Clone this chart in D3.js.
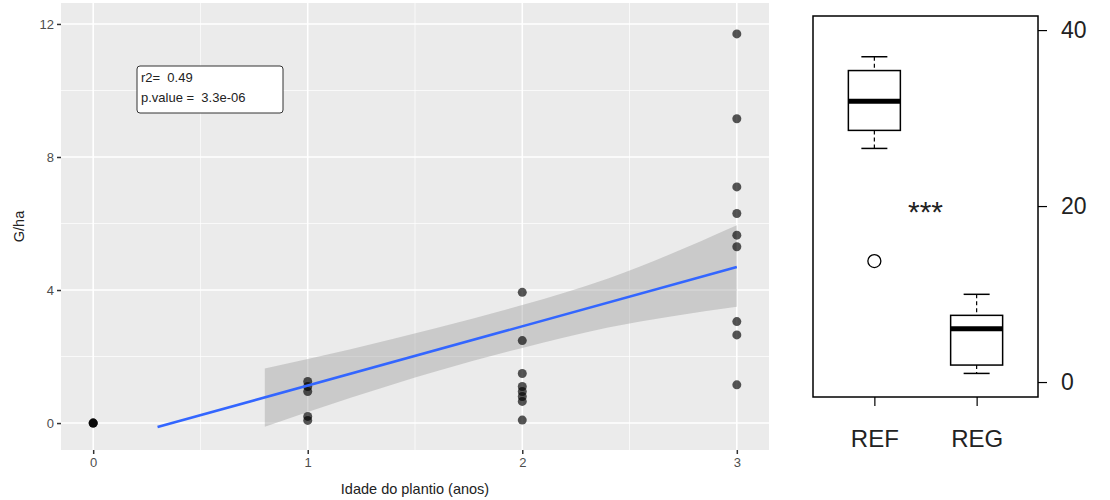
<!DOCTYPE html>
<html>
<head>
<meta charset="utf-8">
<script src="https://cdn.jsdelivr.net/npm/d3@7"></script>
<style>
  body { margin: 0; background: #fff; }
  svg { font-family: "Liberation Sans", Arial, sans-serif; }
</style>
</head>
<body>
<svg id="svg" width="1110" height="500"></svg>
<script>
(function() {

    // scatter: G/ha by planting age (several plots at age 0 overlap)
    const ageX = [0, 0, 0, 1, 1, 1, 1, 1,
                  2, 2, 2, 2, 2, 2, 2, 2,
                  3, 3, 3, 3, 3, 3, 3, 3, 3]
    const gha = [0, 0, 0, 1.25, 1.1, 0.95, 0.2, 0.08,
                 3.93, 2.48, 1.49, 1.1, 0.95, 0.8, 0.65, 0.09,
                 11.7, 9.15, 7.1, 6.3, 5.65, 5.3, 3.05, 2.65, 1.15]

    // fitted line and confidence band
    const fitX = [0.3, 3]
    const fitY = [-0.12, 4.69]
    const bandX = [0.8, 1.2, 1.6, 2.0, 2.4, 3.0]
    const bandLo = [-0.11, 0.76, 1.56, 2.26, 2.87, 3.5]
    const bandHi = [1.64, 2.22, 2.86, 3.55, 4.35, 5.95]

    const xTicks = [0, 1, 2, 3]
    const yTicks = [0, 4, 8, 12]
    const annot = ["r2=  0.49", "p.value =  3.3e-06"]

    // boxplot stats (lower whisker, q1, median, q3, upper whisker)
    const groups = ["REF", "REG"]
    const boxStats = [
        [26.55, 28.6, 31.9, 35.4, 36.97],
        [0.98, 1.93, 6.06, 7.58, 9.97]
    ]
    const outliers = [{ g: 0, v: 13.75 }]
    const boxTicks = [0, 20, 40]
    const signif = "***"

    const svg = d3.select('#svg')

    // ---------- left panel (ggplot style) ----------
    const pL = 61, pR = 769, pT = 3, pB = 450
    const x = d3.scaleLinear().domain([-0.15, 3.15]).range([pL, pR])
    const y = d3.scaleLinear().domain([-0.81, 12.63]).range([pB, pT])

    svg.append('rect')
        .attr('x', pL).attr('y', pT)
        .attr('width', pR - pL).attr('height', pB - pT)
        .attr('fill', '#ebebeb')

    // minor grid
    const xMinor = [0.5, 1.5, 2.5], yMinor = [2, 6, 10]
    svg.selectAll('.xminor').data(xMinor).enter().append('line')
        .attr('x1', d => x(d)).attr('x2', d => x(d))
        .attr('y1', pT).attr('y2', pB)
        .style('stroke', '#fff').style('stroke-width', 0.7)
    svg.selectAll('.yminor').data(yMinor).enter().append('line')
        .attr('x1', pL).attr('x2', pR)
        .attr('y1', d => y(d)).attr('y2', d => y(d))
        .style('stroke', '#fff').style('stroke-width', 0.7)

    // major grid
    svg.selectAll('.xmajor').data(xTicks).enter().append('line')
        .attr('x1', d => x(d)).attr('x2', d => x(d))
        .attr('y1', pT).attr('y2', pB)
        .style('stroke', '#fff').style('stroke-width', 1.6)
    svg.selectAll('.ymajor').data(yTicks).enter().append('line')
        .attr('x1', pL).attr('x2', pR)
        .attr('y1', d => y(d)).attr('y2', d => y(d))
        .style('stroke', '#fff').style('stroke-width', 1.6)

    // axes
    const gx = svg.append('g').attr('transform', `translate(0,${pB})`)
        .call(d3.axisBottom(x).tickValues(xTicks).tickSize(4).tickPadding(4).tickFormat(d3.format('d')))
    const gy = svg.append('g').attr('transform', `translate(${pL},0)`)
        .call(d3.axisLeft(y).tickValues(yTicks).tickSize(4).tickPadding(3).tickFormat(d3.format('d')))
    ;[gx, gy].forEach(g => {
        g.select('.domain').remove()
        g.selectAll('.tick line').style('stroke', '#333').style('stroke-width', 1.5)
        g.selectAll('.tick text').style('fill', '#4d4d4d').style('font-size', '13px')
            .style('font-family', '"Liberation Sans", Arial, sans-serif')
    })

    // confidence band
    const band = bandX.map((d, i) => ({ x: d, lo: bandLo[i], hi: bandHi[i] }))
    svg.append('path')
        .datum(band)
        .attr('d', d3.area().curve(d3.curveMonotoneX).x(d => x(d.x)).y0(d => y(d.lo)).y1(d => y(d.hi)))
        .attr('fill', '#999').attr('opacity', 0.4)

    // points
    svg.selectAll('.pt').data(ageX).enter().append('circle')
        .attr('cx', d => x(d))
        .attr('cy', (d, i) => y(gha[i]))
        .attr('r', 4.5)
        .attr('fill', '#000').attr('opacity', 0.66)

    // fitted line
    svg.append('path')
        .datum(fitX.map((d, i) => [d, fitY[i]]))
        .attr('d', d3.line().x(d => x(d[0])).y(d => y(d[1])))
        .style('fill', 'none').style('stroke', '#3366ff').style('stroke-width', 2.6)

    // annotation box
    svg.append('rect')
        .attr('x', 137).attr('y', 66).attr('width', 146).attr('height', 47)
        .attr('rx', 3).attr('fill', '#fff').attr('stroke', '#333').attr('stroke-width', 1)
    svg.selectAll('.annot').data(annot).enter().append('text')
        .attr('x', 141).attr('y', (d, i) => 82 + i * 20)
        .attr('xml:space', 'preserve')
        .style('white-space', 'pre')
        .style('font-size', '13px').style('fill', '#222')
        .text(d => d)

    // axis titles
    svg.append('text')
        .attr('transform', `translate(24,${(pT + pB) / 2}) rotate(-90)`)
        .attr('text-anchor', 'middle')
        .style('font-size', '14.5px').style('fill', '#222')
        .text('G/ha')
    svg.append('text')
        .attr('x', (pL + pR) / 2).attr('y', 494)
        .attr('text-anchor', 'middle')
        .style('font-size', '14.5px').style('fill', '#222')
        .text('Idade do plantio (anos)')

    // ---------- right panel (base R boxplot) ----------
    const bL = 813, bR = 1038, bT = 16, bB = 397
    const bx = d3.scaleLinear().domain([0.4, 2.6]).range([bL, bR])
    const by = d3.scaleLinear().domain([-1.7, 41.6]).range([bB, bT])
    const halfW = 26, capW = 13

    const boxes = svg.selectAll('.box').data(boxStats).enter().append('g')
        .attr('transform', (d, i) => `translate(${bx(i + 1)},0)`)

    // whiskers (dashed stems)
    boxes.append('line')
        .attr('x1', 0).attr('x2', 0)
        .attr('y1', d => by(d[4])).attr('y2', d => by(d[3]))
        .style('stroke', '#000').style('stroke-width', 1.2).style('stroke-dasharray', '4,3')
    boxes.append('line')
        .attr('x1', 0).attr('x2', 0)
        .attr('y1', d => by(d[1])).attr('y2', d => by(d[0]))
        .style('stroke', '#000').style('stroke-width', 1.2).style('stroke-dasharray', '4,3')
    // caps
    boxes.append('line')
        .attr('x1', -capW).attr('x2', capW)
        .attr('y1', d => by(d[4])).attr('y2', d => by(d[4]))
        .style('stroke', '#000').style('stroke-width', 1.5)
    boxes.append('line')
        .attr('x1', -capW).attr('x2', capW)
        .attr('y1', d => by(d[0])).attr('y2', d => by(d[0]))
        .style('stroke', '#000').style('stroke-width', 1.5)
    // box
    boxes.append('rect')
        .attr('x', -halfW).attr('width', halfW * 2)
        .attr('y', d => by(d[3])).attr('height', d => by(d[1]) - by(d[3]))
        .attr('fill', '#fff').attr('stroke', '#000').attr('stroke-width', 1.5)
    // median
    boxes.append('line')
        .attr('x1', -halfW).attr('x2', halfW)
        .attr('y1', d => by(d[2])).attr('y2', d => by(d[2]))
        .style('stroke', '#000').style('stroke-width', 5)

    // outliers
    svg.selectAll('.out').data(outliers).enter().append('circle')
        .attr('cx', d => bx(d.g + 1)).attr('cy', d => by(d.v))
        .attr('r', 6.5).attr('fill', 'none').attr('stroke', '#000').attr('stroke-width', 1.3)

    // significance
    svg.append('text')
        .attr('x', bx(1.5)).attr('y', by(20) + 16)
        .attr('text-anchor', 'middle')
        .style('font-size', '30px').style('fill', '#222')
        .text(signif)

    // frame
    svg.append('rect')
        .attr('x', bL).attr('y', bT).attr('width', bR - bL).attr('height', bB - bT)
        .attr('fill', 'none').attr('stroke', '#000').attr('stroke-width', 1.5)

    // right axis
    const gr = svg.append('g').attr('transform', `translate(${bR},0)`)
        .call(d3.axisRight(by).tickValues(boxTicks).tickSize(9).tickPadding(14))
    gr.select('.domain').remove()
    gr.selectAll('.tick line').style('stroke', '#000').style('stroke-width', 1.2)
    gr.selectAll('.tick text').style('fill', '#222').style('font-size', '23px')
        .style('font-family', '"Liberation Sans", Arial, sans-serif')

    // bottom axis (ticks + group labels)
    const gb = svg.append('g').attr('transform', `translate(0,${bB})`)
        .call(d3.axisBottom(bx).tickValues([1, 2]).tickSize(9).tickPadding(24)
            .tickFormat((d, i) => groups[i]))
    gb.select('.domain').remove()
    gb.selectAll('.tick line').style('stroke', '#000').style('stroke-width', 1.2)
    gb.selectAll('.tick text').style('fill', '#222').style('font-size', '24px')
        .style('font-family', '"Liberation Sans", Arial, sans-serif')

})();
</script>
</body>
</html>
